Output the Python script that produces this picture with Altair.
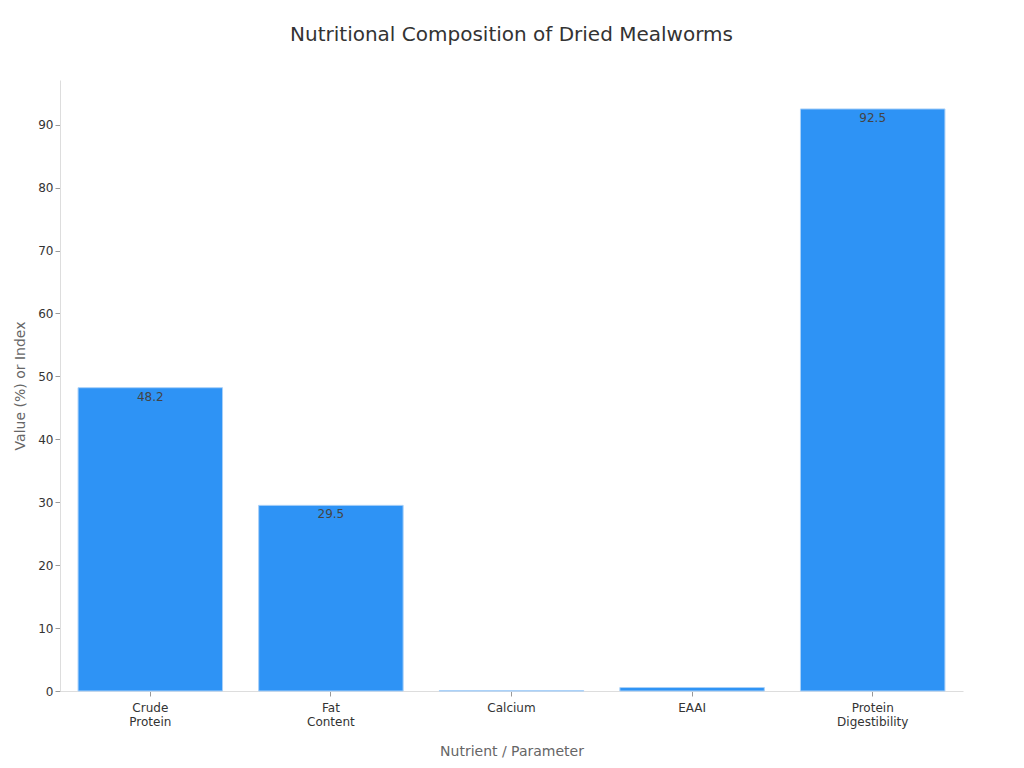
import altair as alt
import pandas as pd

categories = ["Crude Protein", "Fat Content", "Calcium", "EAAI", "Protein Digestibility"]
values = [48.2, 29.5, 0.05, 0.55, 92.5]
labels = ["48.2", "29.5", "", "", "92.5"]

df = pd.DataFrame({"cat": categories, "val": values, "lab": labels})

x = alt.X("cat:N", sort=categories, title="Nutrient / Parameter",
          scale=alt.Scale(paddingInner=0.2, paddingOuter=0.1),
          axis=alt.Axis(labelAngle=0, labelExpr="split(datum.label, ' ')",
                        labelFontSize=12, labelColor="#333", titleFontSize=14,
                        titleColor="#666", titleFontWeight="normal", titlePadding=17,
                        domainColor="#ddd", tickColor="#999", labelPadding=6))
y = alt.Y("val:Q", title="Value (%) or Index",
          scale=alt.Scale(domain=[0, 97.1], nice=False),
          axis=alt.Axis(values=[0, 10, 20, 30, 40, 50, 60, 70, 80, 90], grid=False,
                        labelFontSize=12, labelColor="#333", titleFontSize=14,
                        titleColor="#666", titleFontWeight="normal", titlePadding=10,
                        domainColor="#ddd", tickColor="#999"))

bars = alt.Chart(df).mark_bar(color="#2E93F5", stroke="#A9D0F8", strokeWidth=1).encode(x=x, y=y)
text = alt.Chart(df).mark_text(baseline="top", dy=4, fontSize=12, color="#444").encode(
    x=alt.X("cat:N", sort=categories), y="val:Q", text="lab:N")

chart = (bars + text).properties(
    width=903, height=611,
    padding={"top": 17, "left": 5, "right": 5, "bottom": 5},
    title=alt.TitleParams("Nutritional Composition of Dried Mealworms", fontSize=20,
                          fontWeight="normal", color="#333", offset=35),
).configure(font="DejaVu Sans").configure_view(stroke=None)

chart.save("out.html", embed_options={"renderer": "svg", "actions": False})
